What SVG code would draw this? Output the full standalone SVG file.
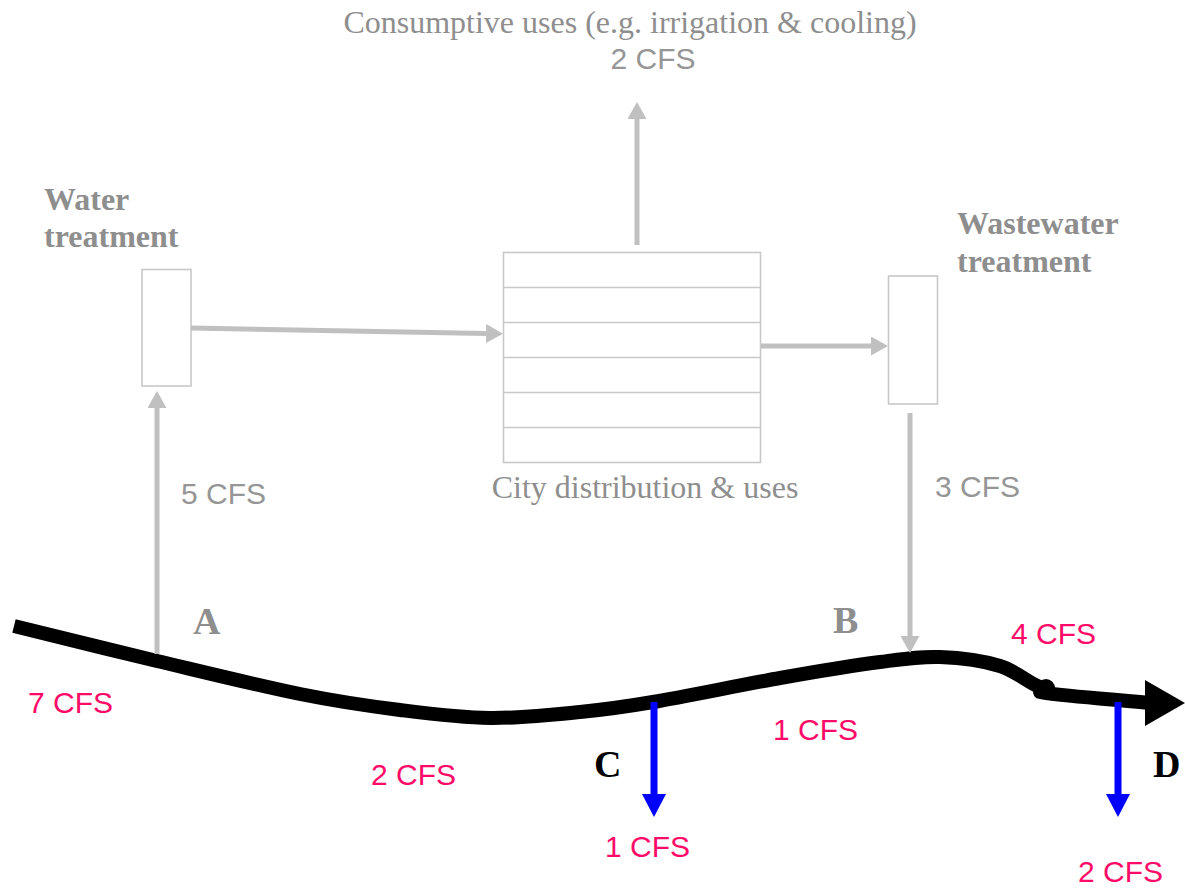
<svg xmlns="http://www.w3.org/2000/svg" width="1185" height="888" viewBox="0 0 1185 888">
<style>
.box{fill:#fff;stroke:#c8c8c8;stroke-width:1.6}
.gline{stroke:#c0c0c0;stroke-width:5;fill:none}
.bline{stroke:#0000ff;stroke-width:7;fill:none}
.serif{font-family:"Liberation Serif","Times New Roman",serif;font-size:32px;fill:#8e8e8e}
.head{font-family:"Liberation Serif","Times New Roman",serif;font-size:32px;font-weight:bold;fill:#8e8e8e}
.pt{font-family:"Liberation Serif","Times New Roman",serif;font-size:38px;font-weight:bold}
.sans{font-family:"Liberation Sans",Arial,sans-serif;font-size:30px}
.gray{fill:#969696}
.pink{fill:#ff0a68}
</style>
<defs>
<marker id="ga" markerUnits="userSpaceOnUse" markerWidth="18" markerHeight="19" refX="0" refY="9.5" orient="auto">
<path d="M0,0 L17,9.5 L0,19 z" fill="#c0c0c0"/>
</marker>
<marker id="ba" markerUnits="userSpaceOnUse" markerWidth="24" markerHeight="24" refX="0" refY="12" orient="auto">
<path d="M0,0 L23,12 L0,24 z" fill="#0000ff"/>
</marker>
</defs>

<g id="river">
<path d="M14,626 C37.8,631.8 109.3,649.7 157,661 C204.7,672.3 259.5,685.8 300,694 C340.5,702.2 368.3,706 400,710 C431.7,714 460,717.7 490,718 C520,718.3 552.8,714.7 580,712 C607.2,709.3 619.7,707.7 653,702 C686.3,696.3 742.2,684.7 780,678 C817.8,671.3 853.3,665.5 880,662 C906.7,658.5 920,656.3 940,657 C960,657.7 983.3,660.8 1000,666 C1016.7,671.2 1028,683 1042,688" fill="none" stroke="#000" stroke-width="14"/>
<path d="M1040,692 C1060,696 1100,698 1150,703" fill="none" stroke="#000" stroke-width="14" stroke-linecap="round"/>
<circle cx="1046" cy="688" r="9" fill="#000"/>
<polygon points="1145,680 1185,703 1145,726" fill="#000"/>
</g>

<g id="water-treatment">
<rect class="box" x="142" y="269.5" width="49" height="116.5"/>
<text class="head" x="44" y="210">Water</text>
<text class="head" x="44" y="247">treatment</text>
</g>

<g id="city">
<rect class="box" x="503.5" y="252.5" width="257" height="210"/>
<path d="M503.5,287.5 H760.5 M503.5,322.5 H760.5 M503.5,357.5 H760.5 M503.5,392.5 H760.5 M503.5,427.5 H760.5" stroke="#c8c8c8" stroke-width="1.6"/>
<text class="serif" x="645" y="498" text-anchor="middle">City distribution &amp; uses</text>
</g>

<g id="wastewater-treatment">
<rect class="box" x="888.5" y="276" width="49" height="128"/>
<text class="head" x="957" y="234">Wastewater</text>
<text class="head" x="957" y="272">treatment</text>
</g>

<g id="consumptive">
<text class="serif" x="630" y="33" text-anchor="middle">Consumptive uses (e.g. irrigation &amp; cooling)</text>
<text class="sans gray" x="653" y="69" text-anchor="middle">2 CFS</text>
</g>

<g id="connectors">
<line class="gline" x1="157" y1="654" x2="157" y2="408" marker-end="url(#ga)"/>
<line class="gline" x1="191" y1="328" x2="486" y2="333.5" marker-end="url(#ga)"/>
<line class="gline" x1="761" y1="346" x2="871" y2="346" marker-end="url(#ga)"/>
<line class="gline" x1="910" y1="413" x2="910" y2="636" marker-end="url(#ga)"/>
<line class="gline" x1="637" y1="245" x2="637" y2="119" marker-end="url(#ga)"/>
<line class="bline" x1="654" y1="702" x2="654" y2="794" marker-end="url(#ba)"/>
<line class="bline" x1="1118" y1="702" x2="1118" y2="794" marker-end="url(#ba)"/>
</g>

<g id="points">
<text class="pt" x="193" y="634" fill="#8e8e8e">A</text>
<text class="pt" x="833" y="633" fill="#8e8e8e">B</text>
<text class="pt" x="594" y="777" fill="#000">C</text>
<text class="pt" x="1153" y="777" fill="#000">D</text>
</g>

<g id="labels">
<text class="sans gray" x="181" y="504">5 CFS</text>
<text class="sans gray" x="935" y="497">3 CFS</text>
<text class="sans pink" x="28" y="713">7 CFS</text>
<text class="sans pink" x="371" y="785">2 CFS</text>
<text class="sans pink" x="773" y="740">1 CFS</text>
<text class="sans pink" x="1011" y="644">4 CFS</text>
<text class="sans pink" x="605" y="857">1 CFS</text>
<text class="sans pink" x="1078" y="882">2 CFS</text>
</g>
</svg>
